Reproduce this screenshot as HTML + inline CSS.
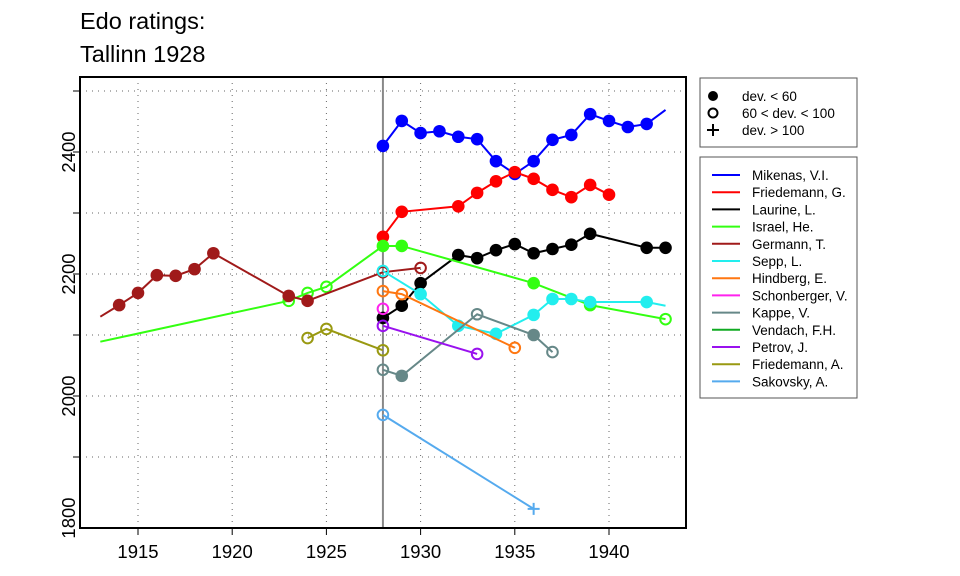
<!DOCTYPE html>
<html><head><meta charset="utf-8"><style>
body{margin:0;background:#fff;font-family:"Liberation Sans",Arial,sans-serif}
svg{display:block}
</style></head><body>
<svg id="chart" width="960" height="576" xmlns="http://www.w3.org/2000/svg" font-family="Liberation Sans, Arial, sans-serif">
<text x="80" y="29" font-size="23.5">Edo ratings:</text>
<text x="80" y="62" font-size="23.5">Tallinn 1928</text>
<g id="grid"></g>
<g id="series"></g>
<rect x="80" y="77" width="606" height="451" fill="none" stroke="#000" stroke-width="2"/>
<g id="axes"></g>
<g>
<rect x="700" y="78" width="157" height="69" fill="#fff" stroke="#555"/>
<circle cx="713" cy="96" r="5" fill="#000"/><text x="742" y="101" font-size="13.5">dev. &lt; 60</text>
<circle cx="713" cy="113" r="4.5" fill="none" stroke="#000" stroke-width="2"/><text x="742" y="118" font-size="13.5">60 &lt; dev. &lt; 100</text>
<path d="M707 130h12M713 124v12" stroke="#000" stroke-width="2"/><text x="742" y="135" font-size="13.5">dev. &gt; 100</text>
</g>
<g id="legend">
<rect x="700" y="157" width="157" height="241" fill="#fff" stroke="#555"/>
</g>
</svg>
<script>
const names=["Mikenas, V.I.","Friedemann, G.","Laurine, L.","Israel, He.","Germann, T.","Sepp, L.","Hindberg, E.","Schonberger, V.","Kappe, V.","Vendach, F.H.","Petrov, J.","Friedemann, A.","Sakovsky, A."];
const colors=["#0000ff","#ff0000","#000000","#33ff11","#a01a1a","#22eeee","#ff7711","#ff22ee","#668888","#11aa22","#9911ee","#999911","#55aaee"];
// years, ratings, marker type: f=filled, o=open, p=plus, n=none
const years=[
[1928,1929,1930,1931,1932,1933,1934,1935,1936,1937,1938,1939,1940,1941,1942,1943],
[1928,1929,1932,1933,1934,1935,1936,1937,1938,1939,1940],
[1928,1929,1930,1932,1933,1934,1935,1936,1937,1938,1939,1942,1943],
[1913,1923,1924,1925,1928,1929,1936,1939,1943],
[1913,1914,1915,1916,1917,1918,1919,1923,1924,1928,1930],
[1928,1930,1932,1934,1936,1937,1938,1939,1942,1943],
[1928,1929,1935],
[1928],
[1928,1929,1933,1936,1937],
[],
[1928,1933],
[1924,1925,1928],
[1928,1936]];
const ratings=[
[2410,2451,2431,2434,2425,2421,2385,2364,2385,2420,2428,2462,2451,2441,2446,2469],
[2261,2302,2311,2333,2352,2367,2356,2338,2326,2346,2330],
[2128,2148,2185,2231,2226,2239,2249,2234,2241,2248,2266,2243,2243],
[2089,2156,2169,2179,2246,2246,2185,2149,2126],
[2130,2149,2169,2198,2197,2208,2234,2164,2156,2203,2210],
[2205,2167,2115,2102,2133,2159,2159,2154,2154,2148],
[2172,2167,2079],
[2143],
[2043,2033,2134,2100,2072],
[],
[2115,2069],
[2095,2110,2075],
[1969,1815]];
const markers=[
"ffffffffffffffff".split("").map((c,i,a)=>i==a.length-1?"n":c),
"fffffffffff".split(""),
"fffffffffffff".split(""),
["n","o","o","o","f","f","f","f","o"],
["n","f","f","f","f","f","f","f","f","o","o"],
["o","f","f","f","f","f","f","f","f","n"],
["o","o","o"],["o"],["o","f","o","f","o"],[],["o","o"],["o","o","o"],["o","p"]];
const xTicks=[1915,1920,1925,1930,1935,1940];
const yTicks=[1800,2000,2200,2400];
const yGrid=[1900,2000,2100,2200,2300,2400,2500];
const X=y=>138+(y-1915)*18.84;
const Y=r=>518-(r-1800)*0.61;
const NS="http://www.w3.org/2000/svg";
function mk(tag,attrs,parent){const e=document.createElementNS(NS,tag);for(const k in attrs)e.setAttribute(k,attrs[k]);parent.appendChild(e);return e;}
const grid=document.getElementById('grid'),axes=document.getElementById('axes'),ser=document.getElementById('series'),leg=document.getElementById('legend');
xTicks.forEach(t=>{const l=mk('line',{x1:X(t),x2:X(t),y1:77,y2:528,stroke:'#666','stroke-dasharray':'1 5'},grid);


const tk=mk('line',{x1:X(t),x2:X(t),y1:528,y2:535,stroke:'#000'},axes);


const tx=mk('text',{x:X(t),y:558,'font-size':18.5,'text-anchor':'middle'},axes);tx.textContent=t;

});
yGrid.forEach(t=>{const l=mk('line',{x1:80,x2:686,y1:Y(t),y2:Y(t),stroke:'#666','stroke-dasharray':'1 5'},grid);


const tk=mk('line',{x1:73,x2:80,y1:Y(t),y2:Y(t),stroke:'#000'},axes);

});
yTicks.forEach(t=>{const tx=mk('text',{x:0,y:0,'font-size':18.5,'text-anchor':'middle',transform:`translate(75,${Y(t)}) rotate(-90)`},axes);tx.textContent=t;

});
const vl=mk('line',{x1:X(1928),x2:X(1928),y1:77,y2:528,stroke:'#888','stroke-width':2},grid);


names.forEach((n,i)=>{
 const g=mk('g',{},ser);
 
 
 const ys=years[i],rs=ratings[i];
 if(ys.length>1)mk('polyline',{points:ys.map((y,j)=>X(y)+','+Y(rs[j])).join(' '),fill:'none',stroke:colors[i],'stroke-width':2},g);
 ys.forEach((y,j)=>{const m=markers[i][j],cx=X(y),cy=Y(rs[j]);
  if(m=='f'){const c=mk('circle',{cx,cy,r:6.3,fill:colors[i]},g);}
  else if(m=='o'){const c=mk('circle',{cx,cy,r:5.3,fill:'none',stroke:colors[i],'stroke-width':2},g);}
  else if(m=='p'){const c=mk('path',{d:`M${cx-6} ${cy}h12M${cx} ${cy-6}v12`,stroke:colors[i],'stroke-width':2},g);}
 });
 const ly=175+i*17.2;
 const ll=mk('line',{x1:712,x2:740,y1:ly,y2:ly,stroke:colors[i],'stroke-width':2},leg);
 
 
 const lt=mk('text',{x:752,y:ly+5,'font-size':13.5},leg);lt.textContent=n;
 
 
});
</script>
</body></html>
